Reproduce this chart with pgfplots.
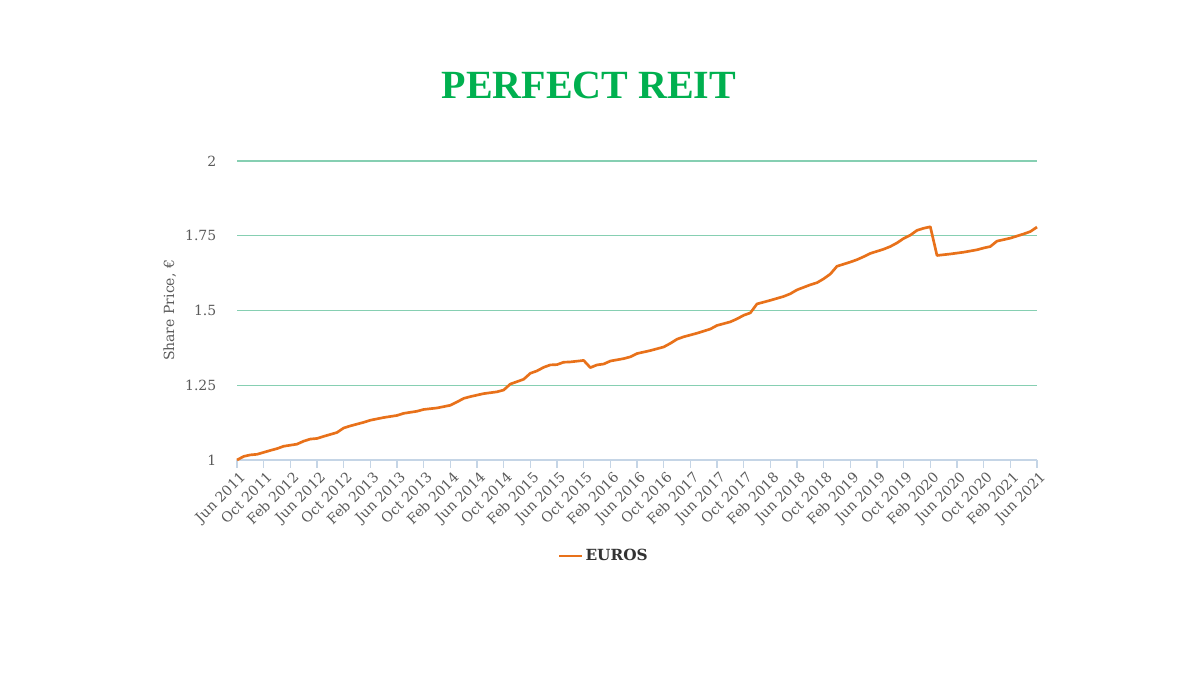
\documentclass[border=0pt]{standalone}
\usepackage{fontspec}
\setmainfont{DejaVu Serif}
\newfontfamily\titlefont{Liberation Serif}
\usepackage{pgfplots}
\pgfplotsset{compat=1.18}

\definecolor{lineorange}{HTML}{E8711A}
\definecolor{gridgreen}{HTML}{86CFB2}
\definecolor{axisblue}{HTML}{C5D5E6}
\definecolor{ticktext}{HTML}{5A5A5A}
\definecolor{titlegreen}{HTML}{00B04F}

\begin{document}
\begin{tikzpicture}[x=0.75pt,y=0.75pt]
\useasboundingbox (0,0) rectangle (1200,675);
\node[font=\titlefont\fontsize{30}{30}\selectfont\bfseries, text=titlegreen] at (589,590) {PERFECT REIT};
\begin{axis}[
    at={(237*0.75pt,215*0.75pt)},
    anchor=south west,
    width=600pt,
    height=224.25pt,
    scale only axis,
    xmin=0, xmax=120,
    ymin=1, ymax=2,
    ytick={1,1.25,1.5,1.75,2},
    yticklabels={1,1.25,1.5,1.75,2},
    xtick={0,4,...,120},
    xticklabels={Jun 2011,Oct 2011,Feb 2012,Jun 2012,Oct 2012,Feb 2013,Jun 2013,Oct 2013,Feb 2014,Jun 2014,Oct 2014,Feb 2015,Jun 2015,Oct 2015,Feb 2016,Jun 2016,Oct 2016,Feb 2017,Jun 2017,Oct 2017,Feb 2018,Jun 2018,Oct 2018,Feb 2019,Jun 2019,Oct 2019,Feb 2020,Jun 2020,Oct 2020,Feb 2021,Jun 2021},
    x tick label style={rotate=45, anchor=north east, font=\fontsize{10.5}{11}\selectfont, text=ticktext, xshift=3pt, yshift=1pt},
    y tick label style={font=\fontsize{10.5}{10.5}\selectfont, text=ticktext, xshift=-6pt},
    axis x line*=bottom,
    axis y line*=left,
    x axis line style={axisblue, line width=0.8pt},
    y axis line style={draw=none},
    xtick style={axisblue, line width=0.8pt},
    ytick style={draw=none},
    major tick length=6pt,
    tick align=outside,
    ymajorgrids,
    grid style={gridgreen, line width=0.8pt},
    ylabel={Share Price, €},
    ylabel style={font=\fontsize{10.5}{10.5}\selectfont, text=ticktext},
    legend style={at={(0.459,-0.321)}, anchor=center, draw=none, font=\fontsize{11.5}{11.5}\selectfont\bfseries, text=black!80},
    legend image post style={line width=1.6pt},
    clip=false,
]
\addplot[lineorange, line width=2pt, line join=round] table {
0 1.000
1 1.012
2 1.017
3 1.019
5 1.032
6 1.038
7 1.046
9 1.053
10 1.063
11 1.070
12 1.072
13 1.079
15 1.092
16 1.107
17 1.114
19 1.126
20 1.133
22 1.142
24 1.149
25 1.156
27 1.163
28 1.169
30 1.174
32 1.183
33 1.194
34 1.206
35 1.212
37 1.222
39 1.228
40 1.234
41 1.254
43 1.270
44 1.290
45 1.298
46 1.310
47 1.318
48 1.319
49 1.327
50 1.328
52 1.333
53 1.309
54 1.318
55 1.321
56 1.331
58 1.339
59 1.345
60 1.356
62 1.366
64 1.378
65 1.390
66 1.404
67 1.412
69 1.424
71 1.438
72 1.450
74 1.462
75 1.472
76 1.484
77 1.492
78 1.522
80 1.534
82 1.547
83 1.556
84 1.569
86 1.586
87 1.593
88 1.606
89 1.622
90 1.648
92 1.662
93 1.670
94 1.680
95 1.691
97 1.705
98 1.714
99 1.726
100 1.741
101 1.752
102 1.768
103 1.775
104 1.780
105 1.684
107 1.689
109 1.695
110 1.699
111 1.703
112 1.709
113 1.714
114 1.732
116 1.742
118 1.756
119 1.764
120 1.779
};
\addlegendentry{EUROS}
\end{axis}
\end{tikzpicture}
\end{document}
